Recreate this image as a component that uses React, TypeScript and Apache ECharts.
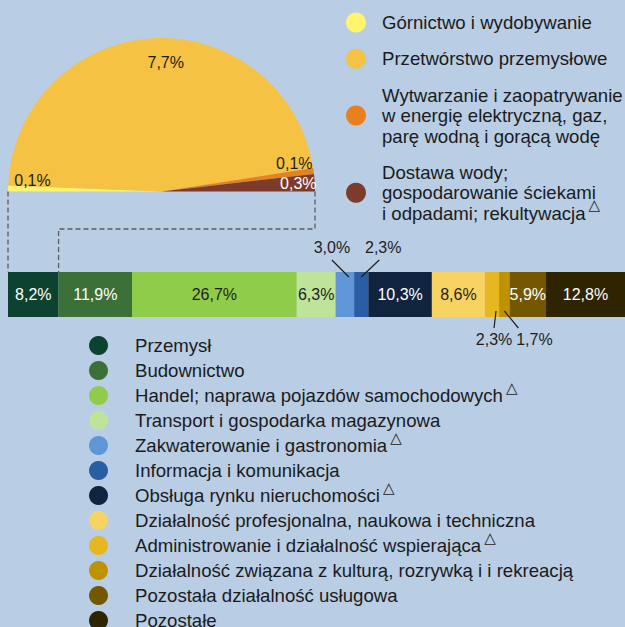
import React, { useEffect, useRef } from 'react';
import * as echarts from 'echarts';

// ---------- data ----------
const PIE_NAMES = [
  'Górnictwo i wydobywanie',
  'Przetwórstwo przemysłowe',
  'Wytwarzanie i zaopatrywanie\nw energię elektryczną, gaz,\nparę wodną i gorącą wodę',
  'Dostawa wody;\ngospodarowanie ściekami\ni odpadami; rekultywacja',
];
const PIE_VALUES = [0.1, 7.7, 0.1, 0.3];
const PIE_MARKED = [false, false, false, true];
const PIE_COLORS = ['#FFF46C', '#F5C244', '#E8801E', '#7D3B2B'];
const PIE_LABEL_COLORS = ['#1e1e1e', '#1e1e1e', '#1e1e1e', '#ffffff'];

const BAR_NAMES = [
  'Przemysł',
  'Budownictwo',
  'Handel; naprawa pojazdów samochodowych',
  'Transport i gospodarka magazynowa',
  'Zakwaterowanie i gastronomia',
  'Informacja i komunikacja',
  'Obsługa rynku nieruchomości',
  'Działalność profesjonalna, naukowa i techniczna',
  'Administrowanie i działalność wspierająca',
  'Działalność związana z kulturą, rozrywką i i rekreacją',
  'Pozostała działalność usługowa',
  'Pozostałe',
];
const BAR_VALUES = [8.2, 11.9, 26.7, 6.3, 3.0, 2.3, 10.3, 8.6, 2.3, 1.7, 5.9, 12.8];
const BAR_MARKED = [false, false, true, false, true, false, true, false, true, false, false, false];
const BAR_COLORS = [
  '#0E4230', '#3B7139', '#8ECC4A', '#BEE49A', '#5E96D8', '#2A5EA4',
  '#10243F', '#F7D462', '#E6B720', '#BE9300', '#745700', '#2F2400',
];
const BAR_LABEL_COLORS = [
  '#ffffff', '#ffffff', '#1e1e1e', '#1e1e1e', '#1e1e1e', '#1e1e1e',
  '#ffffff', '#1e1e1e', '#1e1e1e', '#1e1e1e', '#ffffff', '#ffffff',
];
const CATEGORY = ['2023'];

// ---------- layout / style ----------
const FONT = '"Liberation Sans", Arial, Helvetica, sans-serif';
const BG = '#B9CDE5';
const PIE_CX = 161.5;
const PIE_CY = 191.5;
const PIE_R = 153.5;
const ELBOW_Y = 229;
const BAR_W = 45;
const PIE_LABEL_SHIFT: Record<number, [number, number]> = { 0: [6, -8], 1: [12, 6], 2: [-1, -10], 3: [2, 0] };
const OUTSIDE: Record<number, { pos: 'top' | 'bottom'; dx: number; sx: number; ex: number }> = {
  4: { pos: 'top', dx: -13, sx: 0, ex: 4 },
  5: { pos: 'top', dx: 22, sx: -4, ex: 0 },
  8: { pos: 'bottom', dx: 2, sx: 0, ex: 4 },
  9: { pos: 'bottom', dx: 30, sx: -16, ex: 0 },
};

const fmt = (v: number) => v.toFixed(1).replace('.', ',') + '%';

const SUP_BASE = {
  fontSize: 15,
  padding: [-8, 0, 8, 3],
  fontFamily: '"DejaVu Sans", sans-serif',
};
const supRich = {
  sup: { ...SUP_BASE, color: '#1b1b1b' },
  hid: { ...SUP_BASE, color: 'rgba(0,0,0,0)' },
};

// every line carries the same trailing token so that all legend rows are laid out alike
const legendText = (name: string, marked: boolean) => {
  const lines = name.split('\n');
  return lines
    .map((l, k) => l + (marked && k === lines.length - 1 ? '{sup|△}' : '{hid|△}'))
    .join('\n');
};

const cumStarts: number[] = [];
BAR_VALUES.reduce((a, v) => {
  cumStarts.push(a);
  return a + v;
}, 0);

function renderConnectors(params: any, api: any) {
  const yC = api.coord([0, 0])[1];
  const barTop = yC - BAR_W / 2;
  const barBottom = yC + BAR_W / 2;
  const xAt = (v: number) => api.coord([v, 0])[0];
  const dash = { stroke: '#5c5c5c', lineWidth: 1.3, lineDash: [5, 3], fill: null };
  const children: any[] = [
    {
      type: 'polyline',
      shape: { points: [[PIE_CX - PIE_R, PIE_CY], [xAt(0), PIE_CY], [xAt(0), barTop]] },
      style: dash,
    },
    {
      type: 'polyline',
      shape: {
        points: [
          [PIE_CX + PIE_R, PIE_CY],
          [PIE_CX + PIE_R, ELBOW_Y],
          [xAt(BAR_VALUES[0]), ELBOW_Y],
          [xAt(BAR_VALUES[0]), barTop],
        ],
      },
      style: dash,
    },
  ];
  Object.keys(OUTSIDE).forEach((k) => {
    const i = Number(k);
    const o = OUTSIDE[i];
    const segC = xAt(cumStarts[i] + BAR_VALUES[i] / 2);
    const lx = segC + o.dx;
    const isTop = o.pos === 'top';
    children.push({
      type: 'line',
      shape: {
        x1: lx + o.sx,
        y1: isTop ? barTop - 12 : barBottom + 11,
        x2: segC + o.ex,
        y2: isTop ? barTop + 5 : barBottom - 6,
      },
      style: { stroke: '#1e1e1e', lineWidth: 1.2 },
    });
  });
  return { type: 'group', children };
}

function buildOption() {
  const bars = BAR_VALUES.map((v, i) => {
    const o = OUTSIDE[i];
    return {
      type: 'bar',
      name: BAR_NAMES[i],
      stack: 'total',
      barWidth: BAR_W,
      data: [v],
      itemStyle: { color: BAR_COLORS[i] },
      emphasis: { disabled: true },
      label: o
        ? {
            show: true,
            position: o.pos,
            distance: o.pos === 'top' ? 17 : 14,
            offset: [o.dx, 0],
            formatter: () => fmt(v),
            fontSize: 16,
            fontFamily: FONT,
            color: '#1e1e1e',
          }
        : {
            show: true,
            position: 'inside',
            formatter: () => fmt(v),
            fontSize: 16,
            fontFamily: FONT,
            color: BAR_LABEL_COLORS[i],
          },
    };
  });

  return {
    animation: false,
    backgroundColor: BG,
    textStyle: { fontFamily: FONT },
    legend: [
      {
        orient: 'vertical',
        left: 346,
        top: 7,
        height: 260,
        padding: 0,
        itemWidth: 20,
        itemHeight: 20,
        itemGap: 10.5,
        icon: 'circle',
        selectedMode: false,
        data: PIE_NAMES,
        formatter: (name: string) => legendText(name, PIE_MARKED[PIE_NAMES.indexOf(name)]),
        textStyle: {
          fontFamily: FONT,
          fontSize: 18.6,
          lineHeight: 20.5,
          color: '#1b1b1b',
          padding: [0, 0, 0, 11],
          rich: supRich,
        },
      },
      {
        orient: 'vertical',
        left: 89,
        top: 330,
        height: 400,
        padding: 0,
        itemWidth: 19,
        itemHeight: 19,
        itemGap: -0.5,
        icon: 'circle',
        selectedMode: false,
        data: BAR_NAMES,
        formatter: (name: string) => legendText(name, BAR_MARKED[BAR_NAMES.indexOf(name)]),
        textStyle: {
          fontFamily: FONT,
          fontSize: 18.6,
          lineHeight: 20,
          color: '#1b1b1b',
          padding: [0, 0, 0, 22],
          rich: supRich,
        },
      },
    ],
    grid: { left: 8, top: 272, width: 621, height: BAR_W, containLabel: false },
    xAxis: { type: 'value', min: 0, max: 100, show: false },
    yAxis: { type: 'category', data: CATEGORY, show: false },
    series: [
      {
        type: 'pie',
        name: 'pie-main',
        center: [PIE_CX, PIE_CY],
        radius: [0, PIE_R],
        startAngle: 180,
        endAngle: 0,
        clockwise: true,
        avoidLabelOverlap: false,
        emphasis: { disabled: true },
        label: { show: false },
        labelLine: { show: false },
        data: PIE_VALUES.map((v, i) => ({ name: PIE_NAMES[i], value: v, itemStyle: { color: PIE_COLORS[i] } })),
      },
      {
        type: 'pie',
        name: 'pie-labels',
        center: [PIE_CX, PIE_CY],
        radius: [PIE_R * 0.72, PIE_R],
        startAngle: 180,
        endAngle: 0,
        clockwise: true,
        silent: true,
        avoidLabelOverlap: false,
        emphasis: { disabled: true },
        itemStyle: { color: 'transparent' },
        label: {
          show: true,
          position: 'inside',
          fontSize: 16,
          fontFamily: FONT,
          formatter: (p: any) => fmt(p.value),
        },
        labelLine: { show: false },
        labelLayout: (p: any) => {
          const s = PIE_LABEL_SHIFT[p.dataIndex] || [0, 0];
          return { dx: s[0], dy: s[1] };
        },
        data: PIE_VALUES.map((v, i) => ({
          name: PIE_NAMES[i],
          value: v,
          label: { color: PIE_LABEL_COLORS[i] },
        })),
      },
      ...bars,
      {
        type: 'custom',
        name: 'connectors',
        silent: true,
        z: 5,
        clip: false,
        data: [[0, 0]],
        renderItem: renderConnectors,
      },
    ],
  };
}

export default function App() {
  const ref = useRef<HTMLDivElement>(null);
  useEffect(() => {
    if (!ref.current) return;
    const chart = echarts.init(ref.current, undefined, { renderer: 'svg' });
    chart.setOption(buildOption() as any);
    return () => chart.dispose();
  }, []);
  return <div ref={ref} style={{ position: 'fixed', left: 0, top: 0, width: 625, height: 627 }} />;
}
